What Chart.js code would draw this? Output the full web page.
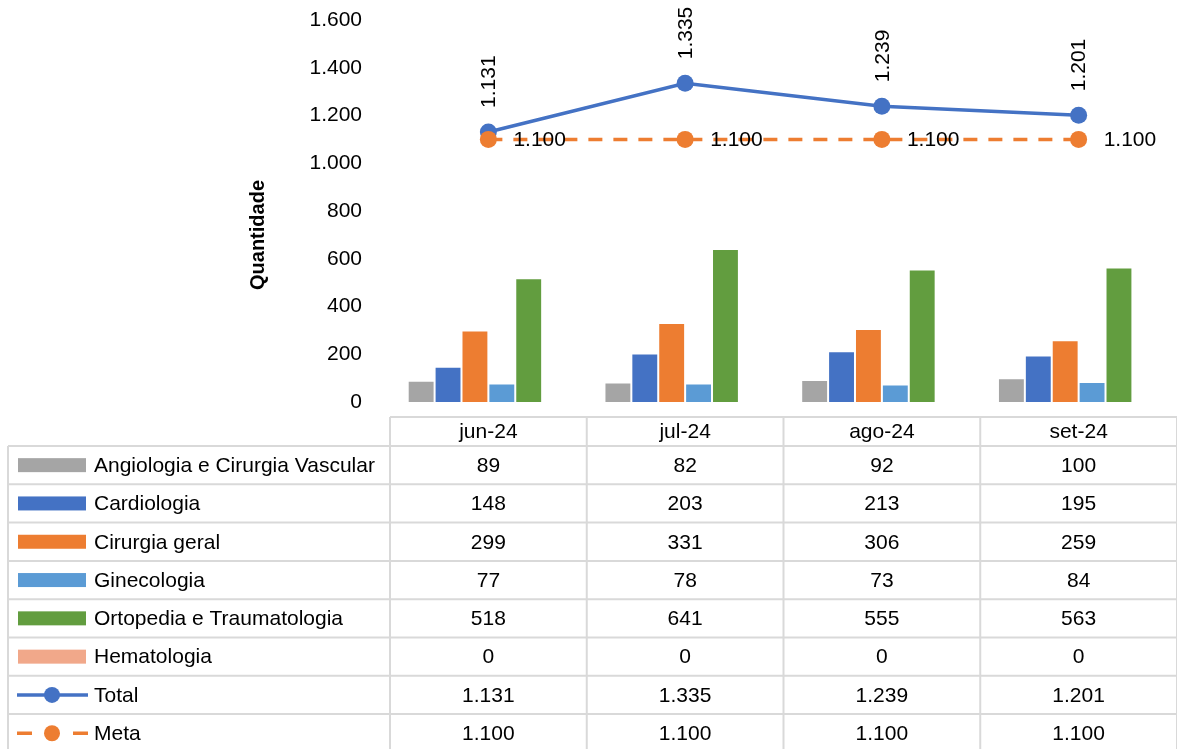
<!DOCTYPE html>
<html>
<head>
<meta charset="utf-8">
<script src="https://cdn.jsdelivr.net/npm/chart.js@4.4.1/dist/chart.umd.min.js"></script>
<style>
  body { margin: 0; background: #fff; }
  canvas { display: block; }
</style>
</head>
<body>
<canvas id="chart" width="1177" height="749"></canvas>
<script>
// dados
const categories = ['jun-24', 'jul-24', 'ago-24', 'set-24'];
const angiologia = [89, 82, 92, 100];
const cardiologia = [148, 203, 213, 195];
const cirurgiaGeral = [299, 331, 306, 259];
const ginecologia = [77, 78, 73, 84];
const ortopedia = [518, 641, 555, 563];
const hematologia = [0, 0, 0, 0];
const total = [1131, 1335, 1239, 1201];
const meta = [1100, 1100, 1100, 1100];
const yMax = 1600;
const yStep = 200;

const FONT = 'Liberation Sans';
const TEXT = '#000';
const GRID = '#D9D9D9';

const fmt = v => String(v).replace(/\B(?=(\d{3})+(?!\d))/g, '.');

function bar(label, data, color) {
  return {
    type: 'bar', label, data, order: 2,
    backgroundColor: color, borderColor: '#fff', borderWidth: 1,
    categoryPercentage: 0.82, barPercentage: 1
  };
}

const datasets = [
  bar('Angiologia e Cirurgia Vascular', angiologia, '#A5A5A5'),
  bar('Cardiologia', cardiologia, '#4472C4'),
  bar('Cirurgia geral', cirurgiaGeral, '#ED7D31'),
  bar('Ginecologia', ginecologia, '#5B9BD5'),
  bar('Ortopedia e Traumatologia', ortopedia, '#629D3F'),
  bar('Hematologia', hematologia, '#F1A88A'),
  {
    type: 'line', label: 'Total', data: total, order: 1,
    borderColor: '#4472C4', borderWidth: 3.5, tension: 0,
    pointRadius: 8.5, pointBorderWidth: 0, pointBackgroundColor: '#4472C4'
  },
  {
    type: 'line', label: 'Meta', data: meta, order: 0,
    borderColor: '#ED7D31', borderWidth: 3.5, borderDash: [14, 11], tension: 0,
    pointRadius: 8.5, pointBorderWidth: 0, pointBackgroundColor: '#ED7D31'
  }
];

// rótulos, título do eixo e tabela de dados
const extras = {
  id: 'extras',
  afterDatasetsDraw(chart) {
    const ctx = chart.ctx;
    const area = chart.chartArea;
    ctx.save();
    ctx.fillStyle = TEXT;
    ctx.font = `21px "${FONT}"`;

    // rótulos Total (rotacionados)
    chart.getDatasetMeta(6).data.forEach((pt, i) => {
      ctx.save();
      ctx.translate(pt.x + 1, pt.y - 24);
      ctx.rotate(-Math.PI / 2);
      ctx.textAlign = 'left';
      ctx.textBaseline = 'middle';
      ctx.fillText(fmt(total[i]), 0, 0);
      ctx.restore();
    });

    // rótulos Meta
    ctx.textAlign = 'left';
    ctx.textBaseline = 'middle';
    chart.getDatasetMeta(7).data.forEach((pt, i) => {
      ctx.fillText(fmt(meta[i]), pt.x + 25, pt.y + 1);
    });

    // título do eixo Y
    ctx.save();
    ctx.translate(258, 235);
    ctx.rotate(-Math.PI / 2);
    ctx.textAlign = 'center';
    ctx.font = `bold 20px "${FONT}"`;
    ctx.fillText('Quantidade', 0, 0);
    ctx.restore();

    // tabela
    const colW = area.width / categories.length;
    const tableTop = area.bottom + 15;
    const headH = 29;
    const rowH = 38.3;
    const rowsTop = tableTop + headH;
    const right = chart.width + 5;
    const bottom = rowsTop + rowH * datasets.length;

    ctx.strokeStyle = GRID;
    ctx.lineWidth = 2;
    ctx.setLineDash([]);
    ctx.beginPath();
    ctx.moveTo(area.left, tableTop);
    ctx.lineTo(right, tableTop);
    for (let r = 0; r <= datasets.length; r++) {
      const y = rowsTop + r * rowH;
      ctx.moveTo(8, y);
      ctx.lineTo(right, y);
    }
    ctx.moveTo(8, rowsTop);
    ctx.lineTo(8, bottom);
    for (let c = 0; c <= categories.length; c++) {
      const x = area.left + c * colW;
      ctx.moveTo(x, tableTop);
      ctx.lineTo(x, bottom);
    }
    ctx.stroke();

    ctx.textAlign = 'center';
    categories.forEach((cat, c) => {
      const cx = chart.scales.x.getPixelForValue(c);
      ctx.fillText(cat, cx, tableTop + headH / 2 + 1);
    });

    datasets.forEach((ds, r) => {
      const cy = rowsTop + r * rowH + rowH / 2;
      // chave da legenda
      if (ds.type === 'bar') {
        ctx.fillStyle = ds.backgroundColor;
        ctx.fillRect(18, cy - 7, 68, 14);
      } else {
        ctx.strokeStyle = ds.borderColor;
        ctx.lineWidth = 3.5;
        ctx.beginPath();
        if (ds.borderDash) {
          ctx.moveTo(17, cy); ctx.lineTo(32, cy);
          ctx.moveTo(73, cy); ctx.lineTo(88, cy);
        } else {
          ctx.moveTo(17, cy); ctx.lineTo(88, cy);
        }
        ctx.stroke();
        ctx.fillStyle = ds.pointBackgroundColor;
        ctx.beginPath();
        ctx.arc(52, cy, 8, 0, Math.PI * 2);
        ctx.fill();
      }
      ctx.fillStyle = TEXT;
      ctx.textAlign = 'left';
      ctx.fillText(ds.label, 94, cy + 1);
      ctx.textAlign = 'center';
      ds.data.forEach((v, c) => {
        const cx = chart.scales.x.getPixelForValue(c);
        ctx.fillText(fmt(v), cx, cy + 1);
      });
    });

    ctx.restore();
  }
};

new Chart(document.getElementById('chart'), {
  data: { labels: categories, datasets },
  options: {
    responsive: false,
    animation: false,
    layout: { autoPadding: false, padding: { top: 20, bottom: 347, left: 0, right: 0 } },
    plugins: {
      legend: { display: false },
      tooltip: { enabled: false }
    },
    scales: {
      x: { display: false },
      y: {
        min: 0, max: yMax,
        afterFit(scale) {
          scale.width = 390;
          scale.paddingTop = 0;
          scale.paddingBottom = 0;
        },
        grid: { display: false, drawTicks: false },
        border: { display: false },
        ticks: {
          stepSize: yStep, padding: 28, color: TEXT,
          font: { family: FONT, size: 21 },
          callback: v => fmt(v)
        }
      }
    }
  },
  plugins: [extras]
});
</script>
</body>
</html>
